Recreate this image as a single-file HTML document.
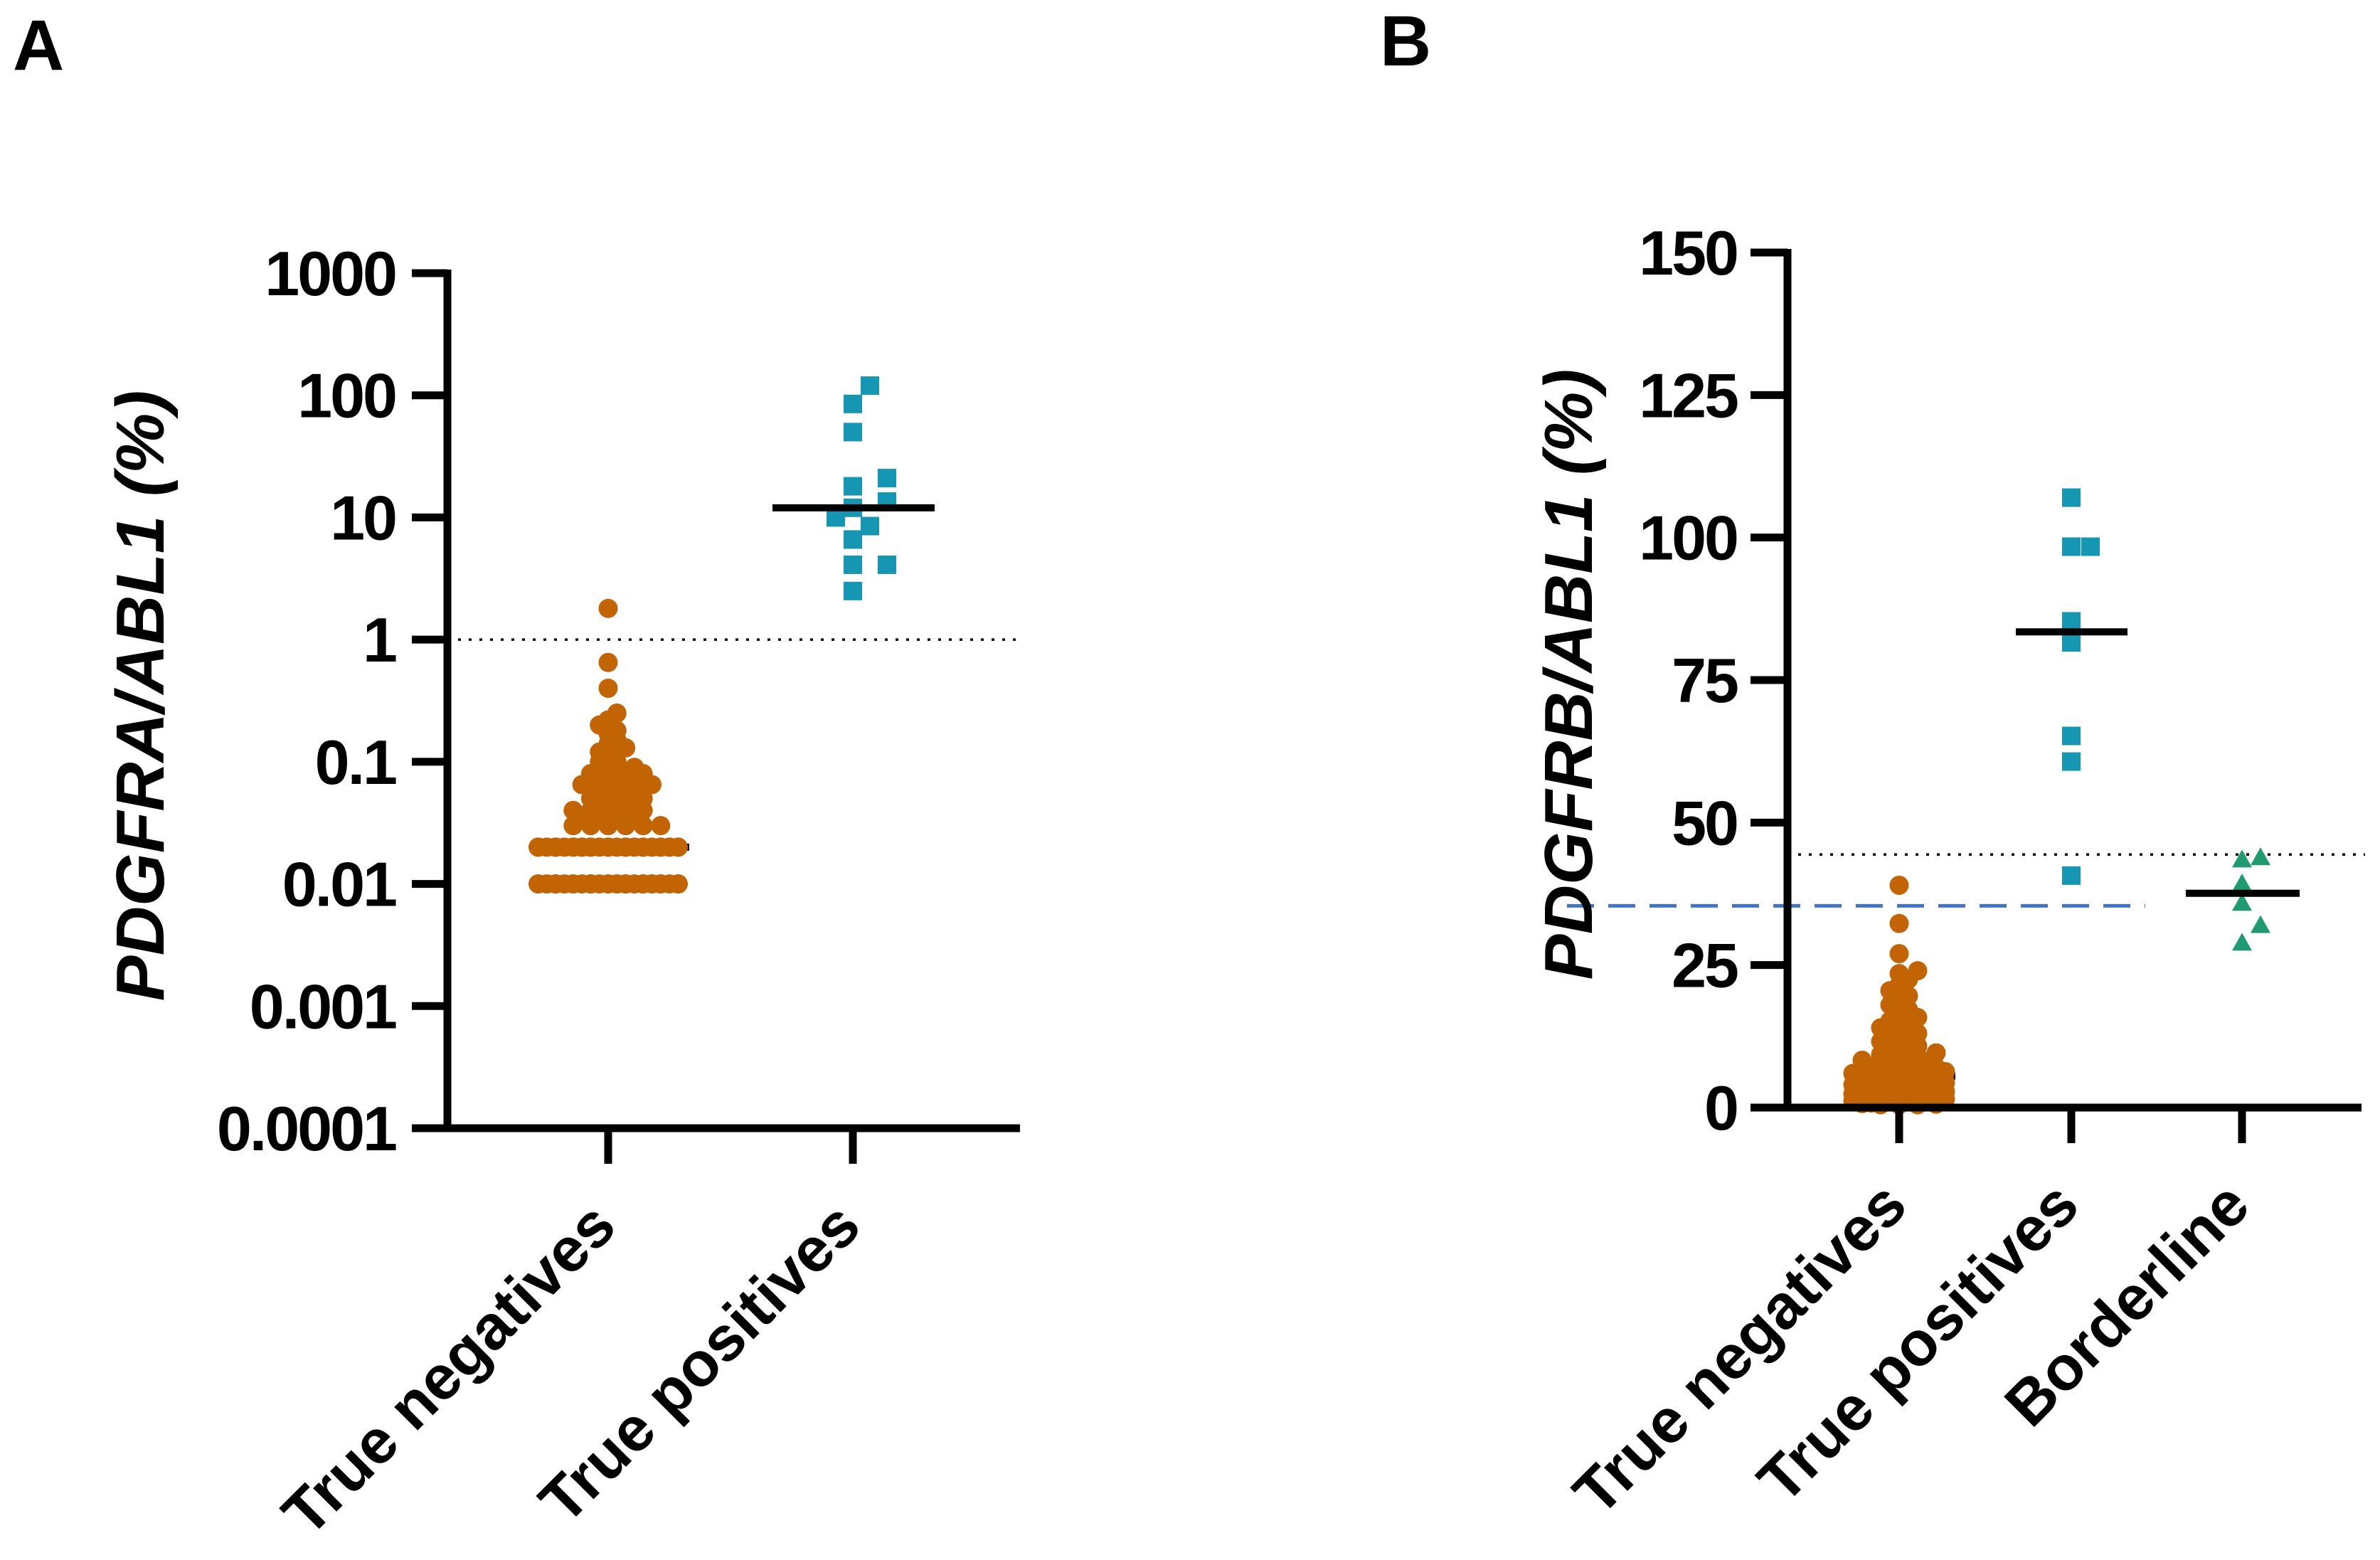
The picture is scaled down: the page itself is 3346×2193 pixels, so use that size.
<!DOCTYPE html>
<html><head><meta charset="utf-8"><style>
html,body{margin:0;padding:0;background:#fff;}
svg{display:block;font-family:"Liberation Sans",Arial,sans-serif;}
</style></head><body>
<svg id="fig" width="3346" height="2193" viewBox="0 0 3346 2193" xmlns="http://www.w3.org/2000/svg">
<text x="18" y="98" font-size="100" font-weight="bold">A</text>
<text x="1940" y="92" font-size="100" font-weight="bold">B</text>
<g id="pa"></g>
<g id="pb"></g>
</svg>
<script>
// ---------- Panel A data ----------
const catsA = ["True negatives", "True positives"];
const ticksA = [1000, 100, 10, 1, 0.1, 0.01, 0.001, 0.0001];
const tickLabelsA = ["1000", "100", "10", "1", "0.1", "0.01", "0.001", "0.0001"];
const thresholdA = 1;
const tnA = [
 0.01,0.01,0.01,0.01,0.01,0.01,0.01,0.01,0.01,0.01,0.01,0.01,0.01,0.01,0.01,0.01,0.01,0.01,0.01,0.01,0.01,0.01,0.01,0.01,0.01,0.01,0.01,0.01,0.01,0.01,0.01,0.01,
 0.02,0.02,0.02,0.02,0.02,0.02,0.02,0.02,0.02,0.02,0.02,0.02,0.02,0.02,0.02,0.02,0.02,0.02,0.02,0.02,0.02,0.02,0.02,0.02,0.02,0.02,0.02,0.02,0.02,0.02,
 0.03,0.03,0.03,0.03,0.03,0.03,0.035,0.035,0.035,0.035,0.04,0.04,0.04,0.04,0.04,0.045,0.045,0.045,0.05,0.05,0.05,0.05,
 0.055,0.055,0.055,0.06,0.06,0.06,0.06,0.065,0.065,0.07,0.07,0.07,0.075,0.08,0.08,0.08,0.09,0.09,
 0.1,0.1,0.11,0.12,0.12,0.13,0.14,0.15,0.17,0.18,0.2,0.22,0.25,0.4,0.65,1.8];
const tpA = [120, 85, 50, 21, 18, 13.5, 12, 10, 8.5, 6.6, 4.1, 4.1, 2.5];

// ---------- Panel B data ----------
const catsB = ["True negatives", "True positives", "Borderline"];
const ticksB = [0, 25, 50, 75, 100, 125, 150];
const tickLabelsB = ["0", "25", "50", "75", "100", "125", "150"];
const thresholdB = 44.4;
const cutoffB = 35.4;
const tnB = [0.5,0.5,0.5,0.6,0.7,0.8,0.8,0.9,1,1,1.1,1.2,1.3,1.4,1.5,1.5,1.6,1.8,2,2,2.1,2.2,2.4,2.5,2.6,2.8,3,3,3.1,3.3,3.5,3.6,3.8,4,4,4.2,4.4,4.6,4.8,5,5,5.2,5.5,5.7,6,6,6.3,6.5,6.8,7,7.2,7.5,7.8,8,8.3,8.6,9,9.3,9.6,10,10.4,10.8,11.2,11.6,12,12.5,13,13.5,14,14.6,15.2,15.8,16.5,17.2,18,18.8,19.6,20.5,21.5,22.5,23.5,24,27,32.3,39];
const tpB = [107, 98.4, 98.4, 85.3, 81.6, 65.2, 60.7, 40.7];
const blB = [43.5, 43.9, 39.3, 35.9, 32.0, 28.9];

const NS = "http://www.w3.org/2000/svg";
function mk(parent, tag, attrs, text){
  const e = document.createElementNS(NS, tag);
  for (const k in attrs) e.setAttribute(k, attrs[k]);
  if (text !== undefined) e.textContent = text;
  parent.appendChild(e);
  return e;
}
function median(a){
  const s = a.slice().sort((x,y)=>x-y); const n = s.length;
  return n % 2 ? s[(n-1)/2] : (s[n/2-1] + s[n/2]) / 2;
}
function swarm(vals, yf, step, dist, maxK){
  const idx = vals.map((v,i)=>i).sort((a,b)=>vals[a]-vals[b]);
  const placed = []; const off = new Array(vals.length).fill(0);
  idx.forEach((i, n) => {
    const y = yf(vals[i]); let chosen = null;
    for (let k = 0; k <= maxK && chosen === null; k++) {
      const cands = k === 0 ? [0] : [k, -k];
      for (const c of cands) {
        const x = c * step;
        if (placed.every(p => (p.x-x)*(p.x-x) + (p.y-y)*(p.y-y) >= dist*dist)) { chosen = x; break; }
      }
    }
    if (chosen === null) chosen = (((n * 7) % (2*maxK+1)) - maxK) * step;
    placed.push({x: chosen, y: y}); off[i] = chosen;
  });
  return off;
}

// ---------- Panel A ----------
(function(){
  const g = document.getElementById('pa');
  const X0 = 629, X1 = 1434, YT = 384, YB = 1586;
  const y = v => YB - (Math.log10(v) + 4) / 7 * (YB - YT);
  const cx = [855, 1199];
  let e;
  e = mk(g, 'line', {x1: X0, y1: y(thresholdA), x2: X1, y2: y(thresholdA), stroke: '#000', 'stroke-width': 3.5, 'stroke-dasharray': '4 11'});
  
  
  e = mk(g, 'line', {x1: 746, x2: 969, y1: y(median(tnA)), y2: y(median(tnA)), stroke: '#000', 'stroke-width': 10});
  
  
  const offT = swarm(tnA, y, 12.3, 13, 8);
  tnA.forEach((v, i) => {
    const c = mk(g, 'circle', {cx: cx[0] + offT[i], cy: y(v), r: 13.5, fill: '#C26304'});
    
    
  });
  const offP = swarm(tpA, y, 24, 27, 2);
  tpA.forEach((v, i) => {
    const s = mk(g, 'rect', {x: cx[1] + offP[i] - 13, y: y(v) - 13, width: 26, height: 26, fill: '#1596B3'});
    
    
  });
  e = mk(g, 'line', {x1: 1086, x2: 1314, y1: y(median(tpA)), y2: y(median(tpA)), stroke: '#000', 'stroke-width': 10});
  
  
  e = mk(g, 'path', {d: `M${X0} ${YT-5} V${YB} H${X1}`, stroke: '#000', 'stroke-width': 11, fill: 'none'});
  
  
  ticksA.forEach((t, i) => {
    const ty = y(t);
    const l = mk(g, 'line', {x1: 579, x2: X0, y1: ty, y2: ty, stroke: '#000', 'stroke-width': 11});
    
    
    const tx = mk(g, 'text', {x: 556, y: ty + 31, 'font-size': 88, 'font-weight': 'bold', 'text-anchor': 'end', 'letter-spacing': '-3'}, tickLabelsA[i]);
    
    
  });
  catsA.forEach((c, i) => {
    const l = mk(g, 'line', {x1: cx[i], x2: cx[i], y1: YB, y2: YB + 50, stroke: '#000', 'stroke-width': 11});
    
    
    const ex = cx[i] + 15, ey = YB + 142;
    const t = mk(g, 'text', {x: ex, y: ey, 'font-size': 88, 'font-weight': 'bold', 'text-anchor': 'end', transform: `rotate(-45 ${ex} ${ey})`}, c);
    
    
  });
  const yl = mk(g, 'text', {x: 0, y: 0, 'font-size': 96, 'font-weight': 'bold', 'font-style': 'italic', 'text-anchor': 'middle', transform: 'translate(230 978) rotate(-90)'}, 'PDGFRA/ABL1 (%)');
  
  
})();

// ---------- Panel B ----------
(function(){
  const g = document.getElementById('pb');
  const X0 = 2513, X1 = 3320, YB = 1557, YT = 355;
  const y = v => YB - v / 150 * (YB - YT);
  const cx = [2670, 2912, 3152];
  let e;
  e = mk(g, 'line', {x1: X0, y1: y(thresholdB), x2: 3325, y2: y(thresholdB), stroke: '#000', 'stroke-width': 3.5, 'stroke-dasharray': '4 11'});
  
  
  e = mk(g, 'line', {x1: 2203, y1: y(cutoffB), x2: 3016, y2: y(cutoffB), stroke: '#4472C4', 'stroke-width': 5, 'stroke-dasharray': '38 20'});
  
  
  e = mk(g, 'line', {x1: 2594, x2: 2749, y1: y(median(tnB)), y2: y(median(tnB)), stroke: '#000', 'stroke-width': 10});
  
  
  const offT = swarm(tnB, y, 13, 14, 5);
  tnB.forEach((v, i) => {
    const c = mk(g, 'circle', {cx: cx[0] + offT[i], cy: y(v), r: 13.5, fill: '#C26304'});
    
    
  });
  const offP = swarm(tpB, y, 27, 27, 3);
  tpB.forEach((v, i) => {
    const s = mk(g, 'rect', {x: cx[1] + offP[i] - 13, y: y(v) - 13, width: 26, height: 26, fill: '#1596B3'});
    
    
  });
  const offB = swarm(blB, y, 26, 26, 3);
  blB.forEach((v, i) => {
    const px = cx[2] + offB[i], py = y(v);
    const t = mk(g, 'polygon', {points: `${px},${py-14} ${px+14},${py+11} ${px-14},${py+11}`, fill: '#1E9B6F'});
    
    
  });
  e = mk(g, 'line', {x1: 2834, x2: 2991, y1: y(median(tpB)), y2: y(median(tpB)), stroke: '#000', 'stroke-width': 10});
  
  
  e = mk(g, 'line', {x1: 3073, x2: 3233, y1: y(median(blB)), y2: y(median(blB)), stroke: '#000', 'stroke-width': 10});
  
  
  e = mk(g, 'path', {d: `M${X0} ${YT-5} V${YB} H${X1}`, stroke: '#000', 'stroke-width': 11, fill: 'none'});
  
  
  ticksB.forEach((t, i) => {
    const ty = y(t);
    const l = mk(g, 'line', {x1: 2461, x2: X0, y1: ty, y2: ty, stroke: '#000', 'stroke-width': 11});
    
    
    const tx = mk(g, 'text', {x: 2442, y: ty + 31, 'font-size': 88, 'font-weight': 'bold', 'text-anchor': 'end', 'letter-spacing': '-3'}, tickLabelsB[i]);
    
    
  });
  catsB.forEach((c, i) => {
    const l = mk(g, 'line', {x1: cx[i], x2: cx[i], y1: YB, y2: YB + 50, stroke: '#000', 'stroke-width': 11});
    
    
    const ex = cx[i] + 15, ey = YB + 142;
    const t = mk(g, 'text', {x: ex, y: ey, 'font-size': 88, 'font-weight': 'bold', 'text-anchor': 'end', transform: `rotate(-45 ${ex} ${ey})`}, c);
    
    
  });
  const yl = mk(g, 'text', {x: 0, y: 0, 'font-size': 96, 'font-weight': 'bold', 'font-style': 'italic', 'text-anchor': 'middle', transform: 'translate(2238 948) rotate(-90)'}, 'PDGFRB/ABL1 (%)');
  
  
})();
</script>
</body></html>
